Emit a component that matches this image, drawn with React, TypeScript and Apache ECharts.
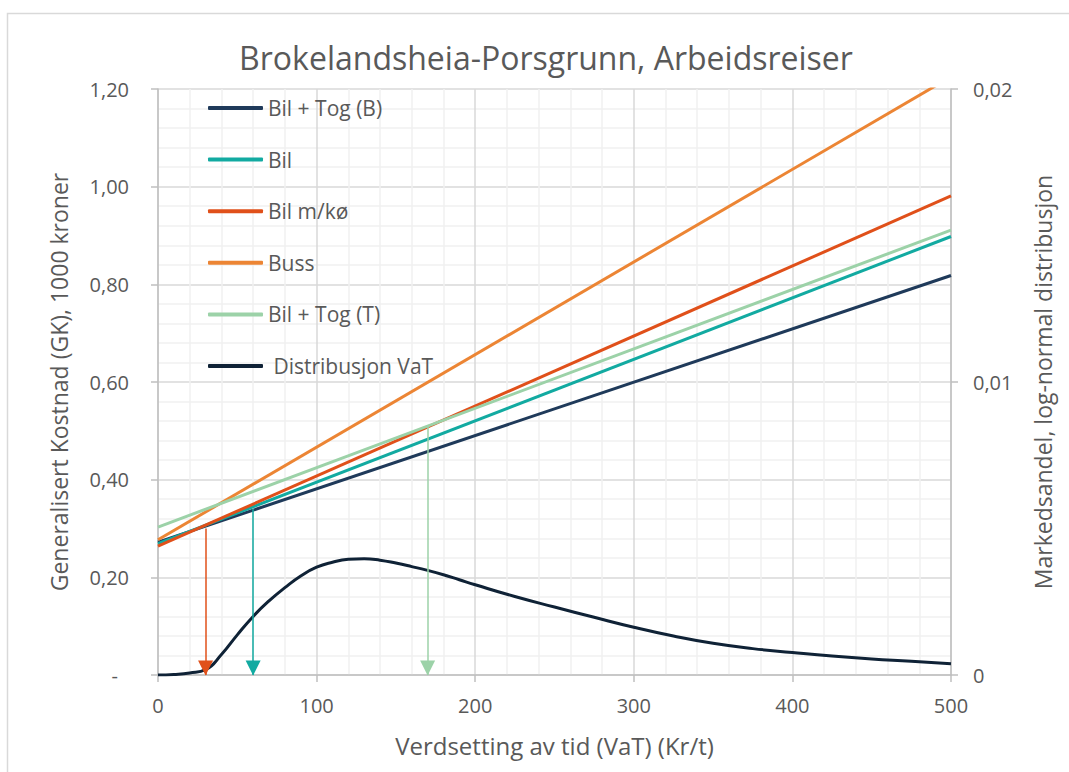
import React, { useEffect, useRef } from 'react';
import * as echarts from 'echarts';

const FONT = 'Open Sans';
const TXT = '#595959';

const titleText = 'Brokelandsheia-Porsgrunn, Arbeidsreiser';
const xName = 'Verdsetting av tid (VaT) (Kr/t)';
const yLeftName = 'Generalisert Kostnad (GK), 1000 kroner';
const yRightName = 'Markedsandel, log-normal distribusjon';

// Linear cost lines: value at VaT = 0 and VaT = 500
const vatAnchors = [0, 500];
const bilTogB = [0.272, 0.818];
const bil = [0.269, 0.898];
const bilMedKo = [0.264, 0.981];
const buss = [0.277, 1.225];
const bilTogT = [0.303, 0.911];

// Log-normal distribution of VaT (right axis)
const distX = [0, 10, 20, 30, 40, 50, 60, 70, 80, 90, 100, 110, 120, 130, 140, 150, 160, 170, 180, 190, 200, 225, 250, 275, 300, 325, 350, 375, 400, 425, 450, 475, 500];
const distY = [0, 0.00002, 0.00007, 0.00018, 0.0007, 0.00137, 0.002, 0.00253, 0.00298, 0.00338, 0.00368, 0.00385, 0.00395, 0.00397, 0.00392, 0.00382, 0.0037, 0.00357, 0.00342, 0.00325, 0.00308, 0.00268, 0.00232, 0.00197, 0.00163, 0.00133, 0.00108, 0.0009, 0.00077, 0.00065, 0.00055, 0.00047, 0.00038];

// Break-even arrows
const arrowX = [30, 60, 170];
const arrowFrom = [0.3, 0.34, 0.51];

const names = ['Bil + Tog (B)', 'Bil', 'Bil m/kø', 'Buss', 'Bil + Tog (T)', 'Distribusjon VaT'];
const colors = ['#1f3a5a', '#12aaa1', '#e0501a', '#ec8534', '#9cd2a8', '#0f2236'];

const App: React.FC = () => {
  const ref = useRef<HTMLDivElement>(null);
  useEffect(() => {
    if (!ref.current) return;
    const chart = echarts.init(ref.current, undefined, { renderer: 'svg' });
    const lineData = [bilTogB, bil, bilMedKo, buss, bilTogT];
    const arrowFor: Record<number, number> = { 2: 0, 1: 1, 4: 2 };
    const lineSeries = lineData.map((arr, i) => {
      const s: any = {
        name: names[i],
        type: 'line',
        data: vatAnchors.map((x, j) => [x, arr[j]]),
        symbol: 'none',
        lineStyle: { width: 3, color: colors[i] },
        itemStyle: { color: colors[i] },
        z: 3,
      };
      if (arrowFor[i] !== undefined) {
        const k = arrowFor[i];
        s.markLine = {
          silent: true,
          symbol: ['none', 'triangle'],
          symbolSize: 15,
          symbolOffset: [0, [0, 7]],
          label: { show: false },
          lineStyle: { color: colors[i], width: 1.5, type: 'solid' },
          data: [[{ coord: [arrowX[k], arrowFrom[k]] }, { coord: [arrowX[k], 0] }]],
        };
      }
      return s;
    });
    const option: any = {
      animation: false,
      textStyle: { fontFamily: FONT },
      graphic: [
        {
          type: 'rect',
          shape: { x: 7.5, y: 13.5, width: 1100, height: 800 },
          style: { fill: 'none', stroke: '#d9d9d9', lineWidth: 1.5 },
          silent: true,
          z: -10,
        },
        {
          type: 'text',
          x: 546,
          y: 57.5,
          style: {
            text: titleText,
            font: `32px "${FONT}"`,
            fill: TXT,
            align: 'center',
            verticalAlign: 'middle',
            textAlign: 'center',
            textVerticalAlign: 'middle',
          },
        },
      ],
      legend: {
        orient: 'vertical',
        left: 208,
        top: 97,
        padding: 0,
        itemWidth: 55,
        itemHeight: 4,
        itemGap: 29.6,
        icon: 'roundRect',
        data: names,
        formatter: (n: string) => (n === 'Distribusjon VaT' ? '\u00a0' + n : n),
        textStyle: { fontSize: 21, color: TXT, lineHeight: 22, fontFamily: FONT },
      },
      grid: { left: 158, right: 118, top: 89, bottom: 97, containLabel: false },
      xAxis: {
        type: 'value',
        min: 0,
        max: 500,
        interval: 100,
        name: xName,
        nameLocation: 'middle',
        nameGap: 58.5,
        nameTextStyle: { fontSize: 24, color: TXT },
        axisLine: { show: true, onZero: false, lineStyle: { color: '#bfbfbf', width: 1.5 } },
        axisTick: { show: true, length: 7, lineStyle: { color: '#bfbfbf', width: 1.5 } },
        axisLabel: { margin: 20, fontSize: 20, color: TXT },
        splitLine: { show: true, lineStyle: { color: '#d9d9d9', width: 1.5 } },
        minorTick: { show: false, splitNumber: 5 },
        minorSplitLine: { show: true, lineStyle: { color: '#f0f0f0', width: 1.5 } },
      },
      yAxis: [
        {
          type: 'value',
          min: 0,
          max: 1.2,
          interval: 0.2,
          position: 'left',
          name: yLeftName,
          nameLocation: 'middle',
          nameGap: 88,
          nameTextStyle: { fontSize: 23, color: TXT },
          axisLine: { show: true, lineStyle: { color: '#bfbfbf', width: 1.5 } },
          axisTick: { show: true, length: 7, lineStyle: { color: '#bfbfbf', width: 1.5 } },
          axisLabel: {
            margin: 29,
            fontSize: 20,
            color: TXT,
            formatter: (v: number) => (v === 0 ? '{d|-}' : v.toFixed(2).replace('.', ',')),
            rich: { d: { fontSize: 20, color: TXT, padding: [0, 11, 0, 0] } },
          },
          splitLine: { show: true, lineStyle: { color: '#d9d9d9', width: 1.5 } },
          minorTick: { show: false, splitNumber: 5 },
          minorSplitLine: { show: true, lineStyle: { color: '#f0f0f0', width: 1.5 } },
        },
        {
          type: 'value',
          min: 0,
          max: 0.02,
          interval: 0.01,
          position: 'right',
          name: yRightName,
          nameLocation: 'middle',
          nameGap: 80,
          nameTextStyle: { fontSize: 23, color: TXT },
          axisLine: { show: true, lineStyle: { color: '#bfbfbf', width: 1.5 } },
          axisTick: { show: true, length: 7, lineStyle: { color: '#bfbfbf', width: 1.5 } },
          axisLabel: {
            margin: 22,
            fontSize: 20,
            color: TXT,
            formatter: (v: number) => (v === 0 ? '0' : v.toFixed(2).replace('.', ',')),
          },
          splitLine: { show: false },
        },
      ],
      series: [
        ...lineSeries,
        {
          name: names[5],
          type: 'line',
          yAxisIndex: 1,
          data: distX.map((x, i) => [x, distY[i]]),
          symbol: 'none',
          smooth: true,
          lineStyle: { width: 3, color: colors[5] },
          itemStyle: { color: colors[5] },
          z: 4,
        },
      ],
    };
    chart.setOption(option);
    return () => chart.dispose();
  }, []);
  return (
    <div
      ref={ref}
      style={{ position: 'fixed', left: 0, top: 0, width: 1069, height: 772, background: '#ffffff' }}
    />
  );
};

export default App;
